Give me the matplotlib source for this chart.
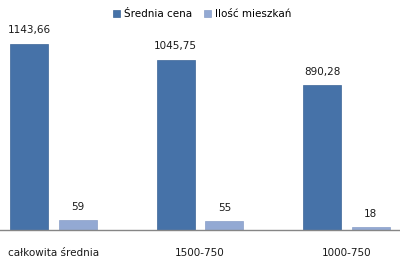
import matplotlib
matplotlib.use("Agg")
import matplotlib.pyplot as plt
import numpy as np

categories = ["całkowita średnia", "1500-750", "1000-750"]
srednia_cena = [1143.66, 1045.75, 890.28]
ilosc_mieszkan = [59, 55, 18]
series_names = ["Średnia cena", "Ilość mieszkań"]
dark = "#4672a8"
light = "#93a9d3"

plt.rcParams['font.family'] = ['DejaVu Sans']

fig = plt.figure(figsize=(4.0, 2.64), dpi=100)
ax = fig.add_axes([0.0, 34/264, 1.0, 230/264])

x = np.arange(len(categories))
w = 0.259
off = 0.166
b1 = ax.bar(x - off, srednia_cena, w, color=dark, edgecolor="#3d6598", linewidth=0.5, label=series_names[0])
b2 = ax.bar(x + off, ilosc_mieszkan, w, color=light, edgecolor="#8a9fc8", linewidth=0.5, label=series_names[1])

def fmt(v):
    if float(v).is_integer():
        return str(int(v))
    return f"{v:.2f}".replace(".", ",")

for bars, vals in ((b1, srednia_cena), (b2, ilosc_mieszkan)):
    for r, v in zip(bars, vals):
        ax.annotate(fmt(v), (r.get_x() + r.get_width() / 2, r.get_height()),
                    xytext=(0, 6), textcoords="offset points", ha="center", va="bottom",
                    fontsize=7.5, color="#1a1a1a")

ax.set_xlim(-53.5 / 146.5, (400 - 53.5) / 146.5)
ax.set_ylim(0, 230 / 0.163)
ax.set_xticks(x)
ax.set_xticklabels(categories, fontsize=7.5, color="#1a1a1a")
ax.tick_params(axis="x", length=0, pad=13)
ax.set_yticks([])
for s in ("top", "right", "left"):
    ax.spines[s].set_visible(False)
ax.spines["bottom"].set_color("#868686")
ax.spines["bottom"].set_linewidth(1.0)

fig.legend(handles=[b1, b2], labels=series_names, loc="upper center",
           bbox_to_anchor=(0.505, 0.99), ncol=2, frameon=False, fontsize=7.5,
           handlelength=0.7, handleheight=0.7, handletextpad=0.3, columnspacing=1.2,
           borderaxespad=0.2)

fig.savefig("out.png", dpi=100)
